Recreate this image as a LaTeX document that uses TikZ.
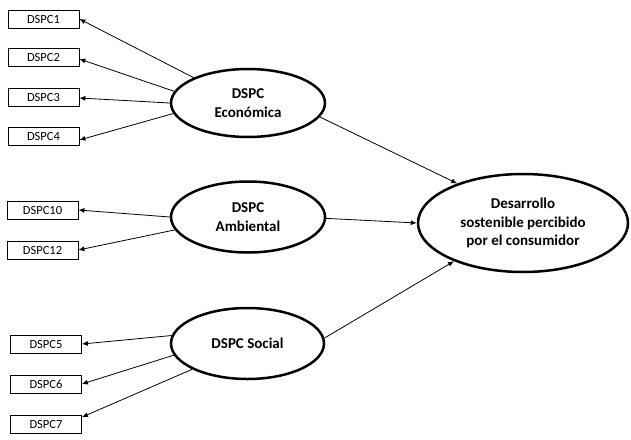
\documentclass[tikz,border=0pt]{standalone}
\usepackage{fontspec}
\setmainfont{Carlito}
\usetikzlibrary{shapes.geometric,arrows.meta}
\begin{document}
\begin{tikzpicture}[x=1pt,y=-1pt,
  ind/.style={draw,line width=0.8pt,minimum width=71pt,minimum height=18pt,inner sep=0pt,font=\fontsize{12.5}{14}\selectfont},
  lat/.style={ellipse,draw,line width=2.5pt,inner sep=0pt,align=center,font=\bfseries\fontsize{15}{18.5}\selectfont},
  arr/.style={-{Latex[length=6pt,width=5pt]},line width=0.8pt}]
\useasboundingbox (0,0) rectangle (631,439);
% indicator boxes
\node[ind] (b1) at (43.5,19) {DSPC1};
\node[ind] (b2) at (43.5,57) {DSPC2};
\node[ind] (b3) at (43.5,97) {DSPC3};
\node[ind] (b4) at (43.5,136) {DSPC4};
\node[ind] (b10) at (42.5,210) {DSPC10};
\node[ind] (b12) at (42.5,250) {DSPC12};
\node[ind] (b5) at (46,344) {DSPC5};
\node[ind] (b6) at (46,384) {DSPC6};
\node[ind] (b7) at (46,424.5) {DSPC7};
% latent ellipses
\node[lat,minimum width=154pt,minimum height=68pt] (eco) at (248,103) {DSPC\\Económica};
\node[lat,minimum width=154pt,minimum height=71pt] (amb) at (248,217) {DSPC\\Ambiental};
\node[lat,minimum width=153pt,minimum height=71pt] (soc) at (247.5,343.5) {DSPC Social};
\node[lat,minimum width=210pt,minimum height=98pt] (big) at (523,223) {Desarrollo\\sostenible percibido\\por el consumidor};
% arrows
\draw[arr] (eco.155) -- (b1.east);
\draw[arr] (eco.171) -- ([yshift=-2pt]b2.east);
\draw[arr] (eco.180) -- ([yshift=-1pt]b3.east);
\draw[arr] (eco.188) -- ([yshift=-4pt]b4.east);
\draw[arr] (amb.180) -- (b10.east);
\draw[arr] (amb.190) -- (b12.east);
\draw[arr] (soc.174) -- (b5.east);
\draw[arr] (soc.189) -- (b6.east);
\draw[arr] (soc.205) -- ([yshift=-2pt]b7.north east);
\draw[arr] (eco.-11) -- (big.149);
\draw[arr] (amb.-1) -- (big.180);
\draw[arr] (soc.4) -- (big.209);
\end{tikzpicture}
\end{document}
